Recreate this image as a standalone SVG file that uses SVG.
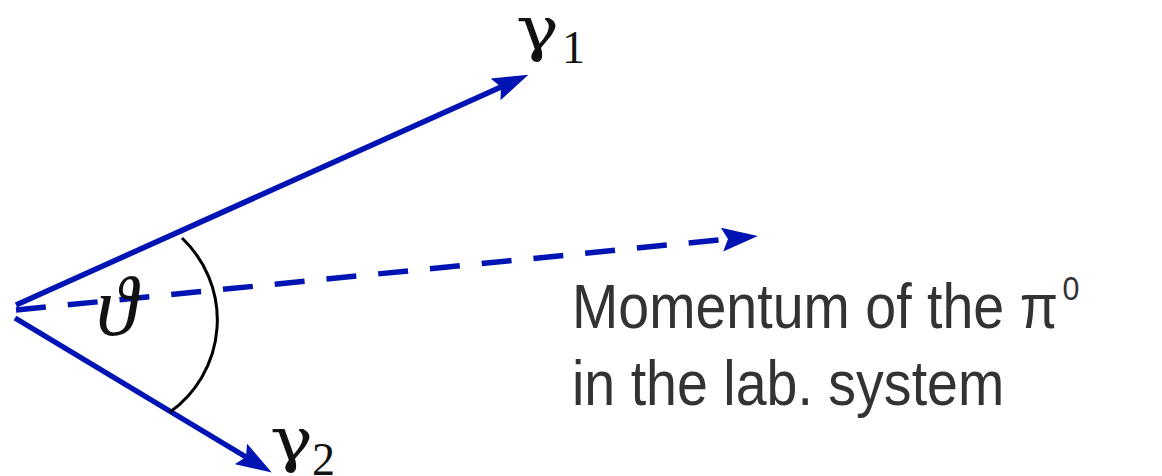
<svg xmlns="http://www.w3.org/2000/svg" width="1162" height="476" viewBox="0 0 1162 476">
<style>
.vec{stroke:#0014b4;stroke-width:5.5;fill:none;stroke-linecap:butt}
.dash{stroke-dasharray:30 22}
.lbl{font-family:"Liberation Sans",Arial,sans-serif;fill:#333333;font-size:62px}
.math{font-family:"Liberation Serif","DejaVu Serif",serif;fill:#111111}
.gam{font-family:"DejaVu Serif","Liberation Serif",serif;fill:#111111}
</style>
<defs>
<marker id="ah" markerUnits="userSpaceOnUse" viewBox="0 0 36 24" markerWidth="36" markerHeight="24" refX="6" refY="12" orient="auto">
<path d="M0,0 L36,12 L0,24 L6,12 Z" fill="#0014b4"/>
</marker>
</defs>
<rect width="1162" height="476" fill="#ffffff"/>
<g id="connectors">
<line class="vec" x1="16" y1="305" x2="501" y2="87" marker-end="url(#ah)"/>
<line class="vec dash" x1="16" y1="310" x2="728" y2="239" marker-end="url(#ah)"/>
<line class="vec" x1="15" y1="318" x2="246" y2="457" marker-end="url(#ah)"/>
</g>
<g id="angle">
<path d="M182,238 A113,113 0 0 1 170,412" fill="none" stroke="#000" stroke-width="3"/>
<text class="math" x="96" y="335" font-size="84" font-style="italic">ϑ</text>
</g>
<g id="gamma1">
<text class="gam" transform="translate(516,50) scale(1.2,1)" font-size="60">γ</text>
<text class="math" x="562" y="63" font-size="46">1</text>
</g>
<g id="gamma2">
<text class="gam" transform="translate(270,461) scale(1.2,1)" font-size="60">γ</text>
<text class="math" x="312" y="475" font-size="46">2</text>
</g>
<g id="label">
<text class="lbl" transform="translate(572,328) scale(0.896,1)">Momentum of the π<tspan dx="5" dy="-28" font-size="34">0</tspan></text>
<text class="lbl" transform="translate(572,405) scale(0.896,1)">in the lab. system</text>
</g>
</svg>
